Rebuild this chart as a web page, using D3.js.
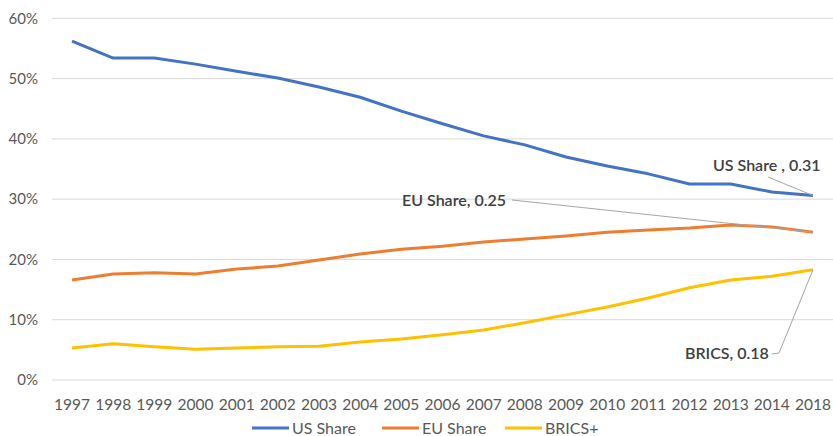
<!DOCTYPE html>
<html>
<head>
<meta charset="utf-8">
<script src="https://cdn.jsdelivr.net/npm/d3@7"></script>
<style>
	body { margin:0; background:#fff; }
	text { font-family: Lato, "Open Sans", sans-serif; }
</style>
</head>
<body>
<div id="c-svg"></div>
<script>

//data
const years = ["1997","1998","1999","2000","2001","2002","2003","2004","2005","2006","2007","2008","2009","2010","2011","2012","2013","2014","2018"];
const usShare = [56.2,53.4,53.4,52.4,51.2,50.1,48.6,46.9,44.6,42.5,40.5,39.0,37.0,35.5,34.2,32.5,32.5,31.2,30.6];
const euShare = [16.6,17.6,17.8,17.6,18.4,18.9,19.9,20.9,21.7,22.2,22.9,23.4,23.9,24.5,24.9,25.2,25.7,25.4,24.5];
const brics = [5.3,6.0,5.5,5.1,5.3,5.5,5.6,6.3,6.8,7.5,8.3,9.5,10.8,12.1,13.6,15.3,16.6,17.2,18.3];
const yTicks = [0,10,20,30,40,50,60];

const seriesNames = ["US Share","EU Share","BRICS+"];
const seriesColors = ["#4472c4","#ed7d31","#ffc000"];

function chart(){

	//sizing
	let width = 833;
	let height = 436;

	let svg = d3.select("#c-svg")
		.append("svg")
		.attr("width", width)
		.attr("height", height);

	let x = d3.scalePoint()
		.domain(years)
		.range([72, 813]);

	let y = d3.scaleLinear()
		.domain([0, 60])
		.range([380, 18.3]);

	//grid
	svg.append("g")
		.selectAll("line")
		.data(yTicks)
		.join("line")
		.attr("x1", 52)
		.attr("x2", 833)
		.attr("y1", d => y(d))
		.attr("y2", d => y(d))
		.attr("stroke", "#d9d9d9")
		.attr("stroke-width", 1);

	//y labels
	svg.append("g")
		.selectAll("text")
		.data(yTicks)
		.join("text")
		.attr("x", 38)
		.attr("y", d => y(d))
		.attr("dy", "0.35em")
		.attr("text-anchor", "end")
		.attr("font-size", 15)
		.attr("fill", "#595959")
		.text(d => d + "%");

	//x labels
	svg.append("g")
		.selectAll("text")
		.data(years)
		.join("text")
		.attr("x", d => x(d))
		.attr("y", 405)
		.attr("dy", "0.35em")
		.attr("text-anchor", "middle")
		.attr("font-size", 15.5)
		.attr("fill", "#595959")
		.text(d => d);

	//lines
	const allSeries = [usShare, euShare, brics];
	const line = d3.line()
		.x((d, i) => x(years[i]))
		.y(d => y(d));

	svg.append("g")
		.selectAll("path")
		.data(allSeries)
		.join("path")
		.attr("d", d => line(d))
		.attr("fill", "none")
		.attr("stroke", (d, i) => seriesColors[i])
		.attr("stroke-width", 3)
		.attr("stroke-linejoin", "round");

	//annotations
	const last = years[years.length - 1];
	const n = years.length - 1;
	let ann = svg.append("g")
		.attr("font-size", 16)
		.attr("font-weight", 600)
		.attr("fill", "#404040");

	//US
	ann.append("path")
		.attr("d", `M768,177 L${x(last)},${y(usShare[n])}`)
		.attr("stroke", "#a6a6a6").attr("fill", "none");
	ann.append("text")
		.attr("x", 713).attr("y", 165).attr("dy", "0.35em")
		.text("US Share , 0.31");

	//EU
	ann.append("path")
		.attr("d", `M512,200 L${x(last)},${y(euShare[n])}`)
		.attr("stroke", "#a6a6a6").attr("fill", "none");
	ann.append("text")
		.attr("x", 402).attr("y", 200).attr("dy", "0.35em")
		.text("EU Share, 0.25");

	//BRICS
	ann.append("path")
		.attr("d", `M772,354 L779,353 L${x(last)},${y(brics[n])}`)
		.attr("stroke", "#a6a6a6").attr("fill", "none");
	ann.append("text")
		.attr("x", 685).attr("y", 353).attr("dy", "0.35em")
		.text("BRICS, 0.18");

	//legend
	const legendX = [252, 382, 505];
	let legend = svg.append("g")
		.selectAll("g")
		.data(seriesNames)
		.join("g")
		.attr("transform", (d, i) => `translate(${legendX[i]},428)`);

	legend.append("line")
		.attr("x1", 0).attr("x2", 37)
		.attr("stroke", (d, i) => seriesColors[i])
		.attr("stroke-width", 3);

	legend.append("text")
		.attr("x", 40)
		.attr("dy", "0.35em")
		.attr("font-size", 16)
		.attr("fill", "#595959")
		.text(d => d);

}

chart();

</script>
</body>
</html>
